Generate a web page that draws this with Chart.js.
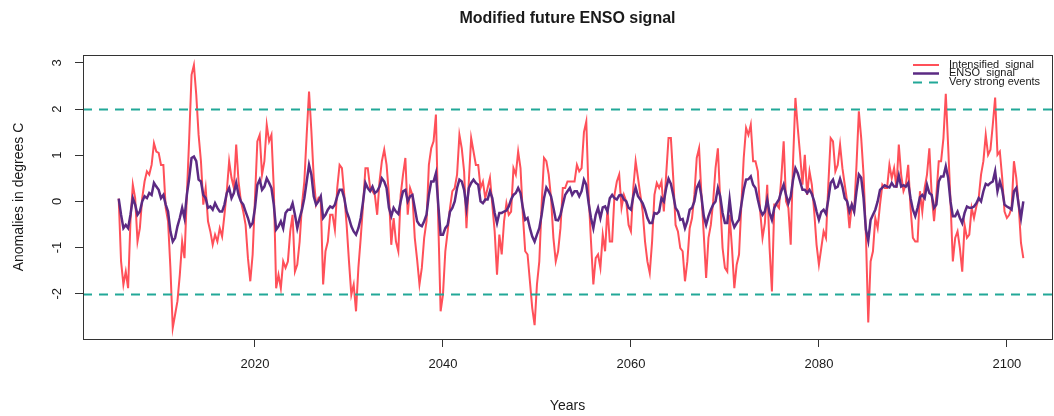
<!DOCTYPE html>
<html>
<head>
<meta charset="utf-8">
<title>Modified future ENSO signal</title>
<script src="https://cdn.jsdelivr.net/npm/chart.js@4.4.1/dist/chart.umd.min.js"></script>
<style>
    html, body { margin: 0; padding: 0; background: #ffffff; }
    #wrap { width: 1054px; height: 416px; }
</style>
</head>
<body>
<div id="wrap"><canvas id="enso" width="1054" height="416"></canvas></div>
<script>
// quarterly samples, starting mid 2005
const startYear = 2005.5;
const stepYears = 0.25;

const intensified = [
    0.06, -1.3, -1.8, -1.52, -1.88, -0.43, 0.36, 0.07, -0.87, -0.58, 0.07, 0.43, 0.65, 0.58, 0.79, 1.26, 1.08, 1.05, 0.79, 0.79,
    -0.14, -0.43, -1.44, -2.74, -2.45, -2.16, -1.59, -0.87, -1.23, 0.14, 1.37, 2.74, 2.95, 2.31, 1.44, 0.87, -0.07,
    0.29, -0.43, -0.65, -0.94, -0.72, -0.87, -0.58, -0.76, -0.29, 0.22, 0.87, 0.51, 0.29, 1.23, 0.43, 0, -0.22, -0.51, -1.23, -1.73,
    -1.15, 0.07, 1.3, 1.44, 0.58, 0.87, 1.66, 1.3, 1.44, 0.29, -1.88, -1.59, -1.88, -1.3, -1.44, -1.3, -0.65, -0.29, -1.52,
    -1.37, -0.87, -0.07, 0.43, 1.44, 2.38, 1.52, 0.51, -0.07, 0.07, 0, -1.8, -1.08, -0.87, -0.29, -0.29, -0.61, 0.29, 0.79, 0.72,
    0.14, -0.51, -1.3, -2.02, -1.8, -2.38, -1.44, -0.79, -0.07, 0.72, 0.72, 0.29, 0.22, 0.14, -0.29, 0.43, 0.87, 1.12, 0.79,
    0.14, -0.94, -0.36, -0.87, -1.08, 0.14, 0.58, 0.94, -0.29, 0.29, 0.14, -0.79, -1.26, -1.8, -1.44, -0.79, -0.43, 0.79, 1.15, 1.3,
    1.88, -0.43, -2.38, -2.02, -1.08, -0.65, -0.14, 0.22, 0.29, 0.58, 1.44, 1.15, 0.65, -0.58, 0.43, 1.37, 1.08, 0.79, 0.79,
    0.29, 0.43, 0.07, 0.29, 0.51, -0.07, -0.65, -1.59, -0.72, -1.15, -0.43, -0.04, -0.29, -0.22, 0.72, 0.58, 1.08, 0.72, -0.29, -1.08,
    -1.15, -1.73, -2.31, -2.68, -1.8, -1.3, -0.07, 0.94, 0.87, 0.58, 0.07, -0.79, -1.3, -1.08, -0.58, 0.29, 0.29, 0.43, 0.43,
    0.43, 0.43, 0.79, 0.65, 0.72, 1.5, 1.73, 0.14, -0.87, -1.8, -1.23, -1.15, -1.44, -0.72, -1.08, -0.14, -0.87, -0.87, 0.14, 0.43,
    0.58, -0.14, 0.14, 0, -0.51, -0.65, 0.29, 0.87, 0.51, 0.14, -0.22, -0.87, -1.3, -1.55, -0.87, 0.14, 0.4, 0.29, 0.43,
    -0.22, 0.58, 1.37, 1.37, 0.51, -0.51, -0.65, -1.01, -1.08, -1.73, -1.3, -0.58, -0.36, 0.14, 0.94, 1.15, 0.14, -0.72, -1.66, -0.79,
    -0.51, 0, 0.72, 1.15, 0, -1.01, -1.44, -1.52, -0.29, -1.01, -1.88, -1.37, -1.15, -0.07, 0.94, 1.59, 1.44, 1.66, 0.87, 0.87,
    0.65, -0.22, -0.79, -0.47, 0.36, -1.01, -1.95, -0.07, -0.07, -0.14, 0.51, 1.3, 0, -0.14, -0.94, 0.87, 2.24, 1.59, 1.01, 0.36,
    1.01, 0.14, 0.65, 0.36, -0.22, -0.94, -1.37, -1.01, -0.65, -0.79, 0.36, 1.37, 1.3, 0.65, 0.79, 1.23, 0.72, 0.36, 0,
    -0.58, -0.07, -0.22, 0.79, 1.95, 1.37, 0.58, -0.72, -2.62, -1.3, -1.08, -0.36, -0.58, -0.07, 0.36, 0.29, 0.29, 0.79, 0.5, 0.72,
    0.29, 1.23, 0.58, 0.22, 0.36, 0.79, -0.14, -0.79, -0.87, -0.87, 0.22, -0.22, 0.29, 0.58, 1.15, 0.14, -0.43, 0.14, 0.87,
    0.87, 1.37, 2.33, 1.2, 0, -1.3, -0.79, -0.65, -1.01, -1.52, -0.51, -0.79, -0.72, -0.14, -0.36, -0.11, 0.07, 0.58, 0.87, 1.44,
    1.01, 1.12, 1.66, 2.25, 1.01, 1.08, 0.51, -0.22, -0.36, -0.29, -0.14, 0.87, 0.51, -0.07, -0.9, -1.23
];

const ensoSignal = [
    0.06, -0.29, -0.58, -0.51, -0.58, -0.29, 0.07, -0.07, -0.29, -0.22, 0, 0.11, 0.07, 0.18, 0.14, 0.4, 0.32, 0.25, 0.07, 0.14,
    -0.07, -0.22, -0.65, -0.87, -0.79, -0.54, -0.36, -0.14, -0.36, 0.14, 0.5, 0.94, 0.97, 0.87, 0.47, 0.43, 0.14,
    0.07, -0.14, -0.11, -0.18, -0.04, -0.14, -0.22, -0.22, -0.07, 0.18, 0.29, 0.07, 0.18, 0.4, 0.14, 0, -0.07, -0.22, -0.36, -0.54,
    -0.47, -0.14, 0.36, 0.47, 0.25, 0.32, 0.5, 0.4, 0.29, -0.07, -0.61, -0.54, -0.43, -0.58, -0.25, -0.18, -0.18, -0.04, -0.29,
    -0.58, -0.36, -0.18, 0.07, 0.43, 0.79, 0.58, 0.11, -0.07, 0, 0.11, -0.36, -0.29, -0.18, -0.11, -0.14, -0.07, 0.11, 0.25, 0.25,
    0.07, -0.22, -0.36, -0.54, -0.65, -0.72, -0.58, -0.36, 0, 0.4, 0.29, 0.22, 0.32, 0.18, 0.22, 0.32, 0.5, 0.43, 0.29,
    -0.14, -0.32, -0.14, -0.22, -0.27, 0, 0.22, 0.25, 0, 0.11, 0.14, -0.14, -0.43, -0.51, -0.54, -0.43, -0.29, 0.14, 0.43, 0.43,
    0.61, -0.07, -0.72, -0.72, -0.58, -0.51, -0.22, -0.14, 0, 0.29, 0.47, 0.43, 0.25, -0.14, 0.29, 0.4, 0.47, 0.4, 0.36,
    0, -0.04, 0.04, 0.04, 0.22, 0.07, -0.25, -0.47, -0.25, -0.25, -0.22, -0.2, -0.11, 0.04, 0.14, 0.18, 0.29, 0.18, -0.14, -0.4,
    -0.36, -0.58, -0.76, -0.87, -0.72, -0.58, -0.29, 0.07, 0.3, 0.22, 0.11, -0.14, -0.4, -0.41, -0.29, -0.07, 0.14, 0.22, 0.29,
    0.14, 0.22, 0.22, 0.11, 0.22, 0.47, 0.36, -0.04, -0.36, -0.58, -0.29, -0.14, -0.36, -0.13, -0.11, -0.22, 0.07, 0.14, 0.07, 0.04,
    0.13, 0.14, 0.04, 0, -0.14, -0.18, 0.11, 0.3, 0.11, 0.04, -0.04, -0.18, -0.36, -0.47, -0.47, -0.25, -0.27, -0.22, 0.07,
    0, 0.29, 0.49, 0.38, 0.14, -0.14, -0.22, -0.4, -0.38, -0.58, -0.43, -0.18, -0.14, 0, 0.29, 0.4, 0.11, -0.32, -0.51, -0.32,
    -0.18, -0.07, 0, 0.29, 0.11, -0.25, -0.47, -0.47, 0.04, -0.4, -0.56, -0.47, -0.4, -0.07, 0.25, 0.47, 0.48, 0.54, 0.36, 0.29,
    0.04, -0.18, -0.29, -0.22, 0.04, -0.25, -0.4, -0.14, -0.04, 0.04, 0.22, 0.36, 0.14, -0.04, 0.11, 0.47, 0.72, 0.61, 0.43, 0.25,
    0.25, 0.18, 0.25, 0.16, 0, -0.22, -0.4, -0.23, -0.18, -0.27, 0.04, 0.4, 0.47, 0.29, 0.32, 0.49, 0.32, 0.07, 0,
    -0.22, -0.07, -0.22, 0.22, 0.58, 0.51, 0.07, -0.61, -0.85, -0.4, -0.29, -0.18, 0, 0.25, 0.3, 0.35, 0.32, 0.3, 0.4, 0.32,
    0.32, 0.56, 0.32, 0.35, 0.32, 0.4, 0.07, -0.18, -0.32, -0.14, 0.09, 0.14, 0.07, 0.36, 0.18, 0.14, -0.14, -0.07, 0.43,
    0.54, 0.54, 0.76, 0.51, 0, -0.32, -0.32, -0.22, -0.36, -0.47, -0.25, -0.11, -0.14, -0.14, -0.11, -0.04, 0.07, 0, 0.22, 0.38,
    0.35, 0.4, 0.43, 0.65, 0.22, 0.43, 0.25, -0.07, -0.11, -0.14, -0.18, 0.22, 0.29, -0.07, -0.36, 0
];

const strongLevels = [2, -2];
const xTicks = [2020, 2040, 2060, 2080, 2100];
const yTicks = [-2, -1, 0, 1, 2, 3];
const xRange = [2001.7, 2104.8];
const yRange = [-2.98, 3.17];

const labels = {
    title: 'Modified future ENSO signal',
    x: 'Years',
    y: 'Anomalies in degrees C',
    intensified: 'Intensified  signal',
    enso: 'ENSO  signal',
    strong: 'Very strong events'
};

const RED = '#ff5059';
const PURPLE = '#5b2a83';
const TEAL = '#22a898';
const INK = '#1a1a1a';
const FONT = "'Liberation Sans', Arial, Helvetica, sans-serif";

const toPoints = arr => arr.map((v, i) => ({ x: startYear + i * stepYears, y: v }));

// R base-graphics look: box, dashed thresholds, titles, rotated y labels, legend
const rLook = {
    id: 'rLook',
    afterDatasetsDraw(chart) {
        const { ctx, chartArea: a, scales: { y } } = chart;
        ctx.save();
        ctx.beginPath();
        ctx.rect(a.left, a.top, a.right - a.left, a.bottom - a.top);
        ctx.clip();
        ctx.strokeStyle = TEAL;
        ctx.lineWidth = 2;
        ctx.setLineDash([9, 7]);
        strongLevels.forEach(v => {
            const py = Math.round(y.getPixelForValue(v)) + 0.5;
            ctx.beginPath();
            ctx.moveTo(a.left, py);
            ctx.lineTo(a.right, py);
            ctx.stroke();
        });
        ctx.restore();

        ctx.save();
        ctx.strokeStyle = '#333';
        ctx.lineWidth = 1;
        ctx.strokeRect(Math.round(a.left) + 0.5, Math.round(a.top) + 0.5,
            Math.round(a.right - a.left), Math.round(a.bottom - a.top));
        ctx.restore();
    },
    afterDraw(chart) {
        const { ctx, chartArea: a, scales: { y } } = chart;
        const midX = (a.left + a.right) / 2;
        const midY = (a.top + a.bottom) / 2;
        ctx.save();
        ctx.fillStyle = INK;

        ctx.font = 'bold 16px ' + FONT;
        ctx.textAlign = 'center';
        ctx.textBaseline = 'middle';
        ctx.fillText(labels.title, midX, 19);

        ctx.font = '14px ' + FONT;
        ctx.fillText(labels.x, midX, 406);

        ctx.save();
        ctx.translate(19, midY);
        ctx.rotate(-Math.PI / 2);
        ctx.fillText(labels.y, 0, 0);
        ctx.restore();

        // y tick labels, parallel to the axis as R draws them
        ctx.font = '13px ' + FONT;
        yTicks.forEach(v => {
            ctx.save();
            ctx.translate(57, y.getPixelForValue(v));
            ctx.rotate(-Math.PI / 2);
            ctx.fillText(String(v), 0, 0);
            ctx.restore();
        });

        // legend (R style, tightly stacked)
        const items = [
            { text: labels.intensified, color: RED, width: 2, dash: [], ly: 65 },
            { text: labels.enso, color: PURPLE, width: 2.5, dash: [], ly: 73.5 },
            { text: labels.strong, color: TEAL, width: 2, dash: [9, 7], ly: 82.5 }
        ];
        ctx.font = '11px ' + FONT;
        ctx.textAlign = 'left';
        items.forEach(it => {
            ctx.strokeStyle = it.color;
            ctx.lineWidth = it.width;
            ctx.setLineDash(it.dash);
            ctx.beginPath();
            ctx.moveTo(913, it.ly);
            ctx.lineTo(939, it.ly);
            ctx.stroke();
            ctx.fillText(it.text, 949, it.ly - 0.5);
        });
        ctx.restore();
    }
};

Chart.defaults.font.family = FONT;

new Chart(document.getElementById('enso'), {
    type: 'line',
    data: {
        datasets: [
            {
                label: labels.intensified,
                data: toPoints(intensified),
                borderColor: RED,
                borderWidth: 2,
                pointRadius: 0,
                tension: 0,
                order: 2
            },
            {
                label: labels.enso,
                data: toPoints(ensoSignal),
                borderColor: PURPLE,
                borderWidth: 2.5,
                pointRadius: 0,
                tension: 0,
                order: 1
            }
        ]
    },
    options: {
        responsive: false,
        animation: false,
        events: [],
        layout: { padding: { top: 55, right: 2, bottom: 0, left: 0 } },
        plugins: {
            legend: { display: false },
            tooltip: { enabled: false },
            title: { display: false }
        },
        scales: {
            x: {
                type: 'linear',
                min: xRange[0],
                max: xRange[1],
                afterBuildTicks: s => { s.ticks = xTicks.map(v => ({ value: v })); },
                afterFit: s => { s.height = 77; },
                border: { display: false },
                grid: { drawOnChartArea: false, drawTicks: true, tickLength: 8, color: '#333' },
                ticks: {
                    color: INK,
                    font: { size: 13 },
                    padding: 10,
                    maxRotation: 0,
                    autoSkip: false,
                    callback: v => String(v)
                }
            },
            y: {
                type: 'linear',
                min: yRange[0],
                max: yRange[1],
                afterBuildTicks: s => { s.ticks = yTicks.map(v => ({ value: v })); },
                afterFit: s => { s.width = 83; },
                border: { display: false },
                grid: { drawOnChartArea: false, drawTicks: true, tickLength: 8, color: '#333' },
                ticks: { display: false }
            }
        }
    },
    plugins: [rLook]
});
</script>
</body>
</html>
